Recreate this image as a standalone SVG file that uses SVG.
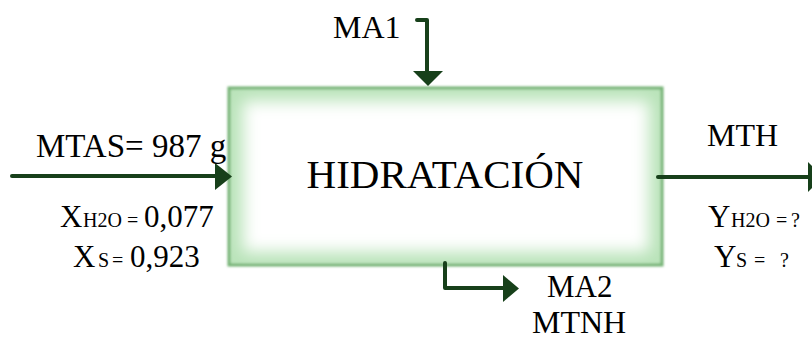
<svg xmlns="http://www.w3.org/2000/svg" width="812" height="341" viewBox="0 0 812 341">
  <style>
    .lbl { font-family: "Liberation Serif", "Times New Roman", serif; fill: #000; }
    .big { font-size: 31px; }
    .sub { font-size: 20px; }
    .flow { fill: none; stroke: #17401a; stroke-width: 4; stroke-linecap: round; stroke-linejoin: round; }
    .head { fill: #17401a; }
  </style>
  <defs>
    <filter id="soft" x="-5%" y="-5%" width="110%" height="110%">
      <feGaussianBlur stdDeviation="0.8"/>
    </filter>
    <filter id="glow" x="-20%" y="-20%" width="140%" height="140%">
      <feGaussianBlur stdDeviation="8"/>
    </filter>
    <clipPath id="boxClip">
      <rect x="229" y="88" width="433" height="177"/>
    </clipPath>
  </defs>

  <rect width="812" height="341" fill="#ffffff"/>

  <!-- process block -->
  <g id="hidratacion">
    <rect x="229" y="88" width="433" height="177" fill="#b9e3b9" stroke="#74b274" stroke-width="3" filter="url(#soft)"/>
    <g clip-path="url(#boxClip)">
      <rect x="243" y="101" width="406" height="151" fill="#ffffff" filter="url(#glow)"/>
    </g>
    <text class="lbl" x="445" y="188" font-size="41" text-anchor="middle">HIDRATACIÓN</text>
  </g>

  <!-- streams -->
  <g id="connectors">
    <!-- MA1 in from top -->
    <path class="flow" d="M417 20 H427 V72"/>
    <polygon class="head" points="413,71 443,71 428,86"/>
    <!-- MTAS in from left -->
    <path class="flow" d="M12 176 H216"/>
    <polygon class="head" points="215,163 215,190 232,176.5"/>
    <!-- MA2 / MTNH out from bottom -->
    <path class="flow" d="M445 263 V288 H504"/>
    <polygon class="head" points="503,275 503,302 519,288.5"/>
    <!-- MTH out to right -->
    <path class="flow" d="M658 177 H812"/>
    <polygon class="head" points="808,162 808,192 823,177"/>
  </g>

  <!-- stream labels -->
  <g id="label-ma1">
    <text class="lbl" x="333" y="38" font-size="32">MA1</text>
  </g>
  <g id="label-mtas">
    <text class="lbl" x="36" y="157" font-size="33">MTAS= 987 g</text>
    <text class="lbl" y="227"><tspan class="big" x="60">X</tspan><tspan class="sub" x="83">H2O</tspan><tspan class="sub" x="127">=</tspan><tspan class="big" x="144">0,077</tspan></text>
    <text class="lbl" y="267"><tspan class="big" x="73">X</tspan><tspan class="sub" x="98">S</tspan><tspan class="sub" x="112">=</tspan><tspan class="big" x="130">0,923</tspan></text>
  </g>
  <g id="label-mth">
    <text class="lbl" x="707" y="146" font-size="32">MTH</text>
    <text class="lbl" y="227"><tspan class="big" x="708">Y</tspan><tspan class="sub" x="731">H2O</tspan><tspan class="sub" x="776">=</tspan><tspan class="sub" x="791">?</tspan></text>
    <text class="lbl" y="267"><tspan class="big" x="714">Y</tspan><tspan class="sub" x="736">S</tspan><tspan class="sub" x="754">=</tspan><tspan class="sub" x="780">?</tspan></text>
  </g>
  <g id="label-ma2">
    <text class="lbl" x="547" y="297" font-size="31">MA2</text>
    <text class="lbl" x="532" y="333" font-size="32">MTNH</text>
  </g>
</svg>
